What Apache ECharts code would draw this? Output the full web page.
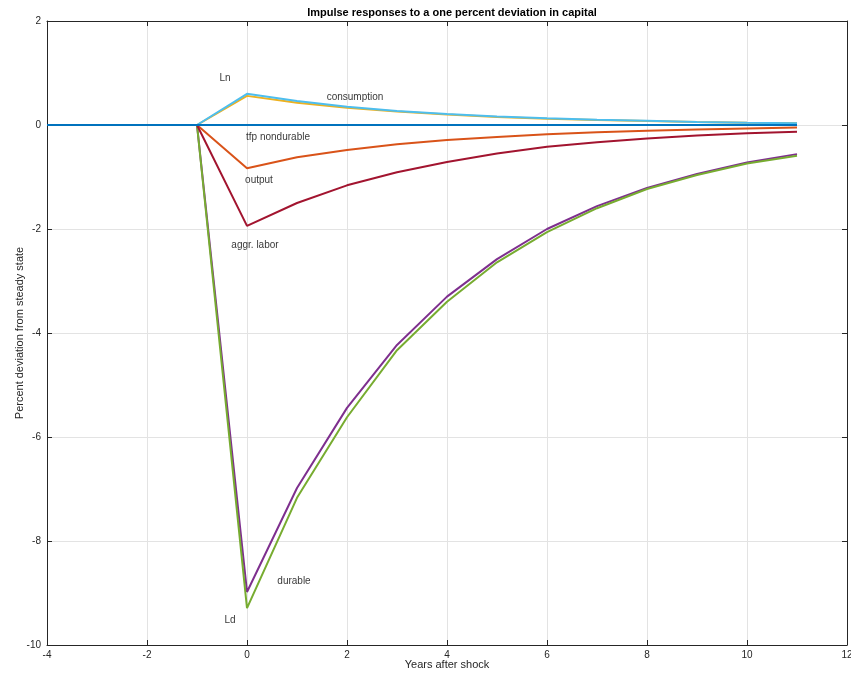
<!DOCTYPE html>
<html>
<head>
<meta charset="utf-8">
<script src="https://cdn.jsdelivr.net/npm/echarts@6/dist/echarts.min.js"></script>
<style>html,body{margin:0;padding:0;background:#fff}#c{width:851px;height:673px}</style>
</head>
<body>
<div id="c"></div>
<script>
const years = [-4,-3,-2,-1,0,1,2,3,4,5,6,7,8,9,10,11];
const pre = [0,0,0,0];
const tfp = pre.concat([0,0,0,0,0,0,0,0,0,0,0,0]);
const ln = pre.concat([0.60,0.46,0.35,0.27,0.21,0.165,0.13,0.10,0.08,0.06,0.045,0.035]);
const consumption = pre.concat([0.56,0.43,0.33,0.26,0.20,0.155,0.12,0.095,0.075,0.058,0.045,0.035]);
const output = pre.concat([-0.83,-0.62,-0.48,-0.37,-0.29,-0.23,-0.18,-0.14,-0.11,-0.085,-0.065,-0.05]);
const aggrLabor = pre.concat([-1.94,-1.50,-1.16,-0.91,-0.71,-0.55,-0.42,-0.33,-0.26,-0.20,-0.16,-0.13]);
const durable = pre.concat([-8.98,-6.98,-5.44,-4.23,-3.30,-2.58,-2.00,-1.56,-1.21,-0.94,-0.72,-0.56]);
const ld = pre.concat([-9.29,-7.17,-5.62,-4.33,-3.40,-2.64,-2.06,-1.60,-1.23,-0.96,-0.74,-0.59]);
const annotations = [
  [-0.44, 0.90, 'Ln'],
  [2.16, 0.54, 'consumption'],
  [0.62, -0.23, 'tfp nondurable'],
  [0.24, -1.06, 'output'],
  [0.16, -2.31, 'aggr. labor'],
  [0.94, -8.77, 'durable'],
  [-0.34, -9.52, 'Ld']
];

const font = 'Liberation Sans, Arial, Helvetica, sans-serif';
function pairs(ys){ return years.map((x,i)=>[x, ys[i]]); }
function line(name, ys, color){
  return {name, type:'line', data:pairs(ys), symbol:'none', lineStyle:{color, width:2}, itemStyle:{color}, animation:false, z:2};
}
const chart = echarts.init(document.getElementById('c'), null, {renderer:'canvas'});
const axisLine = {show:true, onZero:false, lineStyle:{color:'#262626', width:1}};
const splitLine = {show:true, lineStyle:{color:'#e3e3e3', width:1}};
const tick = {show:true, inside:true, length:5, lineStyle:{color:'#262626'}};
chart.setOption({
  backgroundColor:'#fff',
  animation:false,
  title:{text:'Impulse responses to a one percent deviation in capital', left:447, top:2, textAlign:'center',
    textStyle:{fontFamily:font, fontSize:11, fontWeight:'bold', color:'#000'}},
  grid:{left:47, right:4, top:21, bottom:28, containLabel:false, outerBoundsMode:'none'},
  xAxis:[{type:'value', min:-4, max:12, interval:2, position:'bottom',
    name:'Years after shock', nameLocation:'middle', nameGap:14, nameMoveOverlap:false,
    nameTextStyle:{fontFamily:font, fontSize:11, color:'#262626'},
    axisLine, axisTick:tick,
    axisLabel:{fontFamily:font, fontSize:10, color:'#262626', margin:5, showMaxLabel:true, showMinLabel:true},
    splitLine},
   {type:'value', min:-4, max:12, interval:2, position:'top', axisLine,
    axisTick:tick, axisLabel:{show:false}, splitLine:{show:false}}],
  yAxis:[{type:'value', min:-10, max:2, interval:2, position:'left',
    name:'Percent deviation from steady state', nameLocation:'middle', nameGap:22, nameMoveOverlap:false,
    nameTextStyle:{fontFamily:font, fontSize:11, color:'#262626'},
    axisLine, axisTick:tick,
    axisLabel:{fontFamily:font, fontSize:10, color:'#262626', margin:6},
    splitLine},
   {type:'value', min:-10, max:2, interval:2, position:'right', axisLine,
    axisTick:tick, axisLabel:{show:false}, splitLine:{show:false}}],
  series:[
    line('output', output, '#D95319'),
    line('consumption', consumption, '#EDB120'),
    line('durable', durable, '#7E2F8E'),
    line('Ld', ld, '#77AC30'),
    line('Ln', ln, '#4DBEEE'),
    line('aggr. labor', aggrLabor, '#A2142F'),
    line('tfp', tfp, '#0072BD'),
    {type:'scatter', data:annotations.map(a=>({value:[a[0],a[1]], name:a[2]})), symbolSize:0, silent:true, z:5,
      label:{show:true, position:'inside', formatter:p=>p.name, fontFamily:font, fontSize:10, color:'#000'}}
  ]
});
</script>
</body>
</html>
